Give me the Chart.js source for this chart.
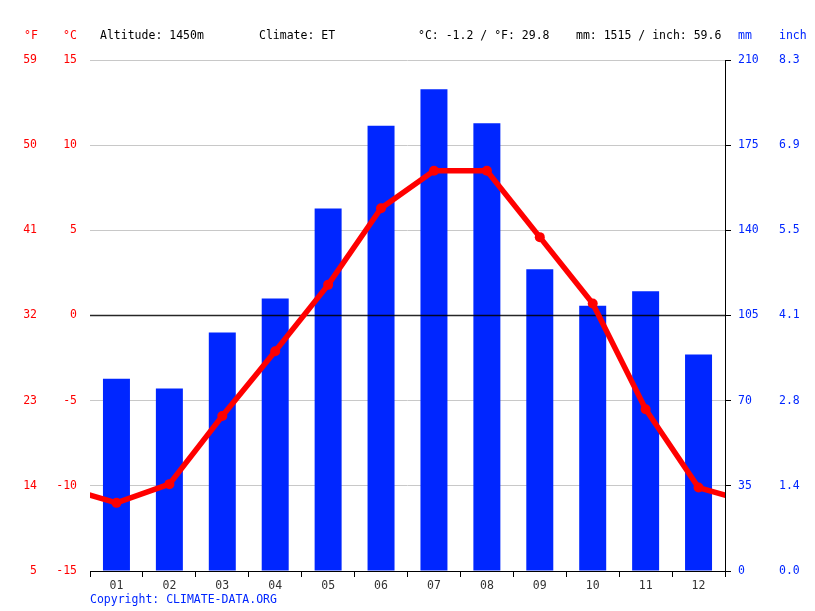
<!DOCTYPE html>
<html>
<head>
<meta charset="utf-8">
<script src="https://cdn.jsdelivr.net/npm/chart.js@4/dist/chart.umd.min.js"></script>
<style>
  html, body { margin: 0; padding: 0; background: #fff; }
  #wrap { width: 815px; height: 611px; }
</style>
</head>
<body>
<div id="wrap"><canvas id="climate"></canvas></div>
<script>
const months = ["01", "02", "03", "04", "05", "06", "07", "08", "09", "10", "11", "12"];
const precipMm = [79, 75, 98, 112, 149, 183, 198, 184, 124, 109, 115, 89];
const tempC = [-11.0, -9.9, -5.9, -2.1, 1.8, 6.3, 8.5, 8.5, 4.6, 0.7, -5.5, -10.1];
const fahrenheitTicks = ["5", "14", "23", "32", "41", "50", "59"];
const inchTicks = ["0.0", "1.4", "2.8", "4.1", "5.5", "6.9", "8.3"];
const headerTexts = [
    { text: "Altitude: 1450m", x: 100, color: "#000" },
    { text: "Climate: ET", x: 259, color: "#000" },
    { text: "°C: -1.2 / °F: 29.8", x: 418, color: "#000" },
    { text: "mm: 1515 / inch: 59.6", x: 576, color: "#000" },
    { text: "°F", x: 24, color: "#ff0000" },
    { text: "°C", x: 63, color: "#ff0000" },
    { text: "mm", x: 738, color: "#0026ff" },
    { text: "inch", x: 779, color: "#0026ff" },
];

const FONT = "'DejaVu Sans Mono', monospace";
const RED = "#ff0000";
const BLUE = "#0026ff";

// line wraps around the year: December before January, January after December
const linePoints = [{ x: 0, y: tempC[11] }]
    .concat(tempC.map((t, i) => ({ x: i + 1, y: t })))
    .concat([{ x: 13, y: tempC[0] }]);

const extras = {
    id: "extras",
    afterDatasetDraw(chart, args) {
        if (args.index !== 1) return;
        // zero line on top of the bars
        const ctx = chart.ctx;
        const y0 = chart.scales.y.getPixelForValue(0);
        ctx.save();
        ctx.strokeStyle = "rgba(0,0,0,0.85)";
        ctx.lineWidth = 1.5;
        ctx.beginPath();
        ctx.moveTo(chart.chartArea.left, y0);
        ctx.lineTo(chart.chartArea.right, y0);
        ctx.stroke();
        ctx.restore();
    },
    afterDraw(chart) {
        const ctx = chart.ctx;
        ctx.save();
        ctx.font = "11.5px " + FONT;
        ctx.textBaseline = "middle";
        ctx.textAlign = "left";
        headerTexts.forEach((h) => {
            ctx.fillStyle = h.color;
            ctx.fillText(h.text, h.x, 36);
        });
        ctx.fillStyle = BLUE;
        ctx.fillText("Copyright: CLIMATE-DATA.ORG", 90, 600);
        ctx.restore();
    },
};

new Chart(document.getElementById("climate"), {
    data: {
        labels: months,
        datasets: [
            {
                type: "line",
                label: "Temperature",
                data: linePoints,
                xAxisID: "x2",
                yAxisID: "y",
                borderColor: RED,
                backgroundColor: RED,
                borderWidth: 5.5,
                pointRadius: 5,
                pointBorderWidth: 0,
                tension: 0,
                clip: 0,
            },
            {
                type: "bar",
                label: "Precipitation",
                data: precipMm,
                xAxisID: "x",
                yAxisID: "yMM",
                backgroundColor: BLUE,
                grouped: false,
                barPercentage: 0.51,
                categoryPercentage: 1,
            },
        ],
    },
    options: {
        responsive: true,
        maintainAspectRatio: false,
        animation: false,
        layout: { padding: { top: 60, bottom: 15, left: 0, right: 0 } },
        plugins: { legend: { display: false }, tooltip: { enabled: false } },
        scales: {
            x: {
                type: "category",
                position: "bottom",
                offset: true,
                grid: {
                    offset: true,
                    drawOnChartArea: false,
                    drawTicks: true,
                    tickLength: 6,
                    color: "#000",
                },
                border: { display: true, color: "#000", width: 1 },
                ticks: { color: "#333", font: { family: FONT, size: 11.5 }, padding: 2, maxRotation: 0 },
                afterFit: (s) => { s.height = 25; },
            },
            x2: {
                type: "linear",
                display: false,
                min: 0.5,
                max: 12.5,
            },
            y: {
                position: "left",
                weight: 1,
                min: -15,
                max: 15,
                ticks: { stepSize: 5, color: RED, font: { family: FONT, size: 11.5 }, padding: 13 },
                grid: {
                    drawTicks: false,
                    color: (c) => (c.tick && c.tick.value === 0 ? "rgba(0,0,0,0)" : "#c8c8c8"),
                },
                border: { display: false },
                afterFit: (s) => { s.width = 50; },
            },
            yF: {
                position: "left",
                weight: 2,
                min: -15,
                max: 15,
                ticks: {
                    stepSize: 5,
                    color: RED,
                    font: { family: FONT, size: 11.5 },
                    padding: 3,
                    callback: (v, i) => fahrenheitTicks[i],
                },
                grid: { display: false, drawTicks: false },
                border: { display: false },
                afterFit: (s) => { s.width = 40; },
            },
            yMM: {
                position: "right",
                weight: 1,
                min: 0,
                max: 210,
                ticks: { stepSize: 35, color: BLUE, font: { family: FONT, size: 11.5 }, padding: 7 },
                grid: { drawOnChartArea: false, drawTicks: true, tickLength: 6, color: "#000" },
                border: { display: true, color: "#000", width: 1 },
                afterFit: (s) => { s.width = 45; },
            },
            yIn: {
                position: "right",
                weight: 2,
                min: 0,
                max: 210,
                ticks: {
                    stepSize: 35,
                    color: BLUE,
                    font: { family: FONT, size: 11.5 },
                    padding: 9,
                    callback: (v, i) => inchTicks[i],
                },
                grid: { display: false, drawTicks: false },
                border: { display: false },
                afterFit: (s) => { s.width = 45; },
            },
        },
    },
    plugins: [extras],
});
</script>
</body>
</html>
